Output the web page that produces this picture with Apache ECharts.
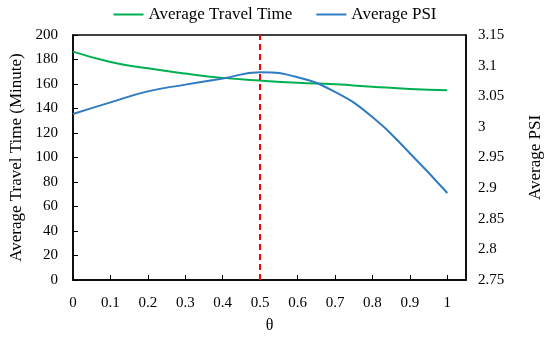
<!DOCTYPE html>
<html><head><meta charset="utf-8">
<script src="https://cdn.jsdelivr.net/npm/echarts@6/dist/echarts.min.js"></script>
<style>html,body{margin:0;padding:0;background:#fff}#c{width:550px;height:337px}</style>
</head><body><div id="c"></div>
<script>
const theta = [0, 0.1, 0.2, 0.3, 0.4, 0.5, 0.6, 0.7, 0.8, 0.9, 1.0];
const travelTime = [186.4, 178, 172.8, 168.5, 165, 162.8, 161, 159.7, 157.8, 156, 154.8];
const psi = [3.021, 3.040, 3.058, 3.069, 3.079, 3.089, 3.081, 3.057, 3.016, 2.957, 2.892];
const markTheta = 0.5;
const FONT = 'Liberation Serif';
const chart = echarts.init(document.getElementById('c'));
chart.setOption({
  animation: false,
  textStyle: {fontFamily: FONT},
  grid: {left: 73, right: 84, top: 35, bottom: 57, show: true, borderColor: '#000', borderWidth: 1.5,
    containLabel: false, outerBoundsMode: 'none'},
  legend: {
    top: 1, left: 'center', itemWidth: 30, itemHeight: 2, itemGap: 24, icon: 'rect',
    textStyle: {fontFamily: FONT, fontSize: 17, color: '#000'},
    data: ['Average Travel Time', 'Average PSI']
  },
  xAxis: {
    type: 'value', min: 0, max: 1.05, interval: 0.1,
    name: 'θ', nameLocation: 'middle', nameGap: 38,
    nameTextStyle: {fontFamily: FONT, fontSize: 16, color: '#000'},
    axisLine: {lineStyle: {color: '#000', width: 1.5}},
    axisTick: {inside: true, length: 5, lineStyle: {color: '#000'}},
    axisLabel: {showMaxLabel: false, margin: 16, color: '#000', fontSize: 15, fontFamily: FONT,
      formatter: v => String(+v.toFixed(2))},
    splitLine: {show: false}
  },
  yAxis: [{
    type: 'value', min: 0, max: 200, interval: 20,
    name: 'Average Travel Time (Minute)', nameLocation: 'middle', nameGap: 48,
    nameTextStyle: {fontFamily: FONT, fontSize: 17, color: '#000'},
    axisLine: {show: true, lineStyle: {color: '#000', width: 1.5}},
    axisTick: {show: true, inside: true, length: 5, lineStyle: {color: '#000'}},
    axisLabel: {color: '#000', fontSize: 15, fontFamily: FONT, margin: 15},
    splitLine: {show: false}
  }, {
    type: 'value', min: 2.75, max: 3.15, interval: 0.05, position: 'right',
    name: 'Average PSI', nameLocation: 'middle', nameGap: 61,
    nameTextStyle: {fontFamily: FONT, fontSize: 17, color: '#000'},
    axisLine: {show: true, lineStyle: {color: '#000', width: 1.5}},
    axisTick: {show: false},
    axisLabel: {color: '#000', fontSize: 15, fontFamily: FONT, margin: 12,
      formatter: v => String(+v.toFixed(2))},
    splitLine: {show: false}
  }],
  series: [{
    name: 'Average Travel Time', type: 'line', yAxisIndex: 0, smooth: true, symbol: 'none',
    color: '#00B050', lineStyle: {width: 2, color: '#00B050'},
    data: theta.map((t, i) => [t, travelTime[i]]),
    markLine: {
      silent: true, symbol: 'none', label: {show: false},
      lineStyle: {color: '#FF0000', type: [6, 4], width: 2},
      data: [{xAxis: markTheta}]
    }
  }, {
    name: 'Average PSI', type: 'line', yAxisIndex: 1, smooth: true, symbol: 'none',
    color: '#2E7BC4', lineStyle: {width: 2, color: '#2E7BC4'},
    data: theta.map((t, i) => [t, psi[i]])
  }]
});
</script></body></html>
